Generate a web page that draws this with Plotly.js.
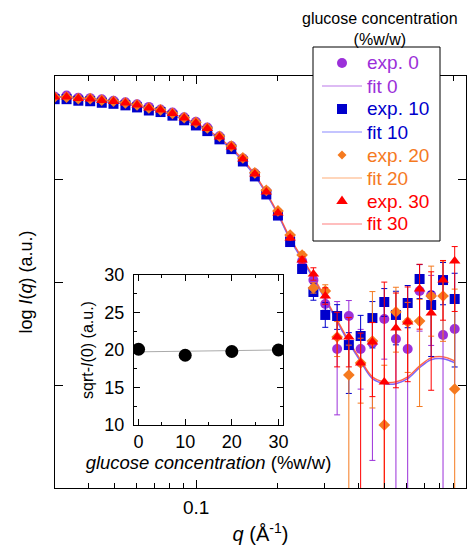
<!DOCTYPE html>
<html><head><meta charset="utf-8">
<script src="https://cdn.plot.ly/plotly-3.0.1.min.js"></script>
<style>html,body{margin:0;padding:0;background:#fff}#chart{width:469px;height:546px}</style>
</head><body><div id="chart"></div>
<script>
// scattering vector q (1/Å)
const q = [0.0299,0.0331,0.0366,0.0405,0.0447,0.0494,0.0547,0.0604,0.0668,0.0738,
           0.0817,0.0903,0.0998,0.110,0.122,0.135,0.149,0.165,0.182,0.201,
           0.223,0.247,0.272,0.301,0.333,0.368,0.407,0.450,0.498,0.550,
           0.608,0.673,0.743,0.822,0.908];

// log I(q), arbitrary units
const exp0 = [3.80,3.81,3.79,3.785,3.775,3.76,3.745,3.725,3.70,3.675,3.645,3.60,3.555,3.50,3.415,3.32,3.20,3.055,2.88,2.675,
              2.437,2.204,2.019,1.786,1.350,1.670,1.350,1.408,1.641,1.447,1.350,1.913,1.874,1.485,1.544];
const exp10 = [3.775,3.775,3.76,3.755,3.74,3.73,3.715,3.695,3.665,3.65,3.615,3.57,3.52,3.465,3.385,3.29,3.17,3.025,2.85,2.645,
               2.388,2.126,1.903,1.680,1.670,1.388,1.476,1.650,1.806,1.680,1.796,2.029,1.777,2.019,1.835];
const exp20 = [3.795,3.795,3.78,3.78,3.765,3.755,3.74,3.72,3.69,3.672,3.638,3.595,3.55,3.495,3.415,3.32,3.205,3.06,2.89,2.69,
               2.456,2.262,1.942,1.913,1.466,1.097,1.214,1.427,0.612,1.709,1.612,1.621,1.864,1.864,0.961];
const exp30 = [3.796,3.796,3.782,3.777,3.762,3.752,3.738,3.718,3.689,3.670,3.636,3.592,3.544,3.490,3.408,3.311,3.194,3.049,2.874,2.670,
               2.427,2.214,2.078,1.864,1.466,1.466,1.214,1.417,1.029,1.553,1.612,1.932,1.699,2.019,2.204];

// error bars (upper / lower), in log units; 9 = reaches below the axis
const err0Up = [0.005,0.005,0.005,0.005,0.005,0.005,0.005,0.005,0.005,0.005,0.005,0.005,0.005,0.005,0.005,0.01,0.01,0.01,0.01,0.01,
                0.02,0.03,0.05,0.06,0.46,0.15,0.19,0.24,0.15,0.24,0.29,0.15,0.19,0.39,0.29];
const err0Dn = [0.005,0.005,0.005,0.005,0.005,0.005,0.005,0.005,0.005,0.005,0.005,0.005,0.005,0.005,0.005,0.01,0.01,0.01,0.01,0.01,
                0.02,0.03,0.05,0.06,0.64,0.30,0.39,1.14,0.39,9,9,0.39,0.49,9,0.58];
const err10Up = [0.005,0.005,0.005,0.005,0.005,0.005,0.005,0.005,0.005,0.005,0.005,0.005,0.005,0.005,0.005,0.01,0.01,0.01,0.01,0.01,
                 0.02,0.04,0.08,0.12,0.11,0.12,0.20,0.16,0.13,0.23,0.17,0.14,0.13,0.17,0.25];
const err10Dn = [0.005,0.005,0.005,0.005,0.005,0.005,0.005,0.005,0.005,0.005,0.005,0.005,0.005,0.005,0.005,0.01,0.01,0.01,0.01,0.01,
                 0.02,0.04,0.08,0.12,0.13,0.47,0.29,0.29,0.14,0.29,0.24,0.19,0.50,0.24,0.66];
const err20Up = [0.005,0.005,0.005,0.005,0.005,0.005,0.005,0.005,0.005,0.005,0.005,0.005,0.005,0.005,0.005,0.01,0.01,0.01,0.01,0.01,
                 0.02,0.03,0.05,0.06,0.15,0.29,0.24,0.48,0.58,0.24,0.19,0.21,0.29,0.34,0.97];
const err20Dn = [0.005,0.005,0.005,0.005,0.005,0.005,0.005,0.005,0.005,0.005,0.005,0.005,0.005,0.005,0.005,0.01,0.01,0.01,0.01,0.01,
                 0.02,0.03,0.05,0.05,0.19,9,0.39,0.65,9,0.39,0.49,0.83,0.39,0.44,9];
const err30Up = [0.005,0.005,0.005,0.005,0.005,0.005,0.005,0.005,0.005,0.005,0.005,0.005,0.005,0.005,0.005,0.01,0.01,0.01,0.01,0.01,
                 0.02,0.03,0.06,0.08,0.24,0.19,0.29,0.19,0.97,0.34,0.34,0.24,0.40,0.19,0.14];
const err30Dn = [0.005,0.005,0.005,0.005,0.005,0.005,0.005,0.005,0.005,0.005,0.005,0.005,0.005,0.005,0.005,0.01,0.01,0.01,0.01,0.01,
                 0.02,0.03,0.06,0.08,0.29,0.29,9,0.53,9,0.58,0.58,0.39,0.75,0.39,0.49];

// model fits
const fit0 = [3.79,3.79,3.777,3.768,3.755,3.742,3.727,3.706,3.679,3.652,3.618,3.574,3.524,3.463,3.383,3.288,3.172,3.029,2.854,2.652,
              2.412,2.218,2.034,1.830,1.616,1.412,1.228,1.063,1.014,1.014,1.063,1.169,1.247,1.257,1.218];
const fit10 = [3.79,3.79,3.777,3.768,3.755,3.742,3.727,3.706,3.679,3.652,3.618,3.574,3.524,3.463,3.383,3.288,3.172,3.029,2.854,2.652,
               2.410,2.215,2.031,1.827,1.613,1.409,1.225,1.060,1.011,1.011,1.060,1.166,1.244,1.254,1.215];
const fit20 = [3.80,3.80,3.792,3.783,3.770,3.757,3.742,3.721,3.694,3.667,3.633,3.589,3.539,3.478,3.398,3.303,3.187,3.044,2.869,2.667,
               2.430,2.236,2.052,1.848,1.634,1.430,1.246,1.081,1.032,1.032,1.081,1.187,1.265,1.275,1.236];
const fit30 = [3.80,3.80,3.792,3.783,3.770,3.757,3.742,3.721,3.694,3.667,3.633,3.589,3.539,3.478,3.398,3.303,3.187,3.044,2.869,2.667,
               2.427,2.233,2.049,1.845,1.631,1.427,1.243,1.078,1.029,1.029,1.078,1.184,1.262,1.272,1.233];

// inset: sqrt-I(0) vs glucose concentration
const glucose = [0, 10, 20, 30];
const sqrtI0 = [20.1, 19.3, 19.8, 20.0];
const glucoseFit = [0, 30];
const sqrtI0Fit = [19.75, 20.0];

// legend labels
const legendLabels = ['exp. 0', 'fit 0', 'exp. 10', 'fit 10', 'exp. 20', 'fit 20', 'exp. 30', 'fit 30'];

const colors = {p:'#9b30d9', b:'#0000cc', o:'#f57a1f', r:'#ff0000'};
const fitColors = {p:'rgba(160,64,224,0.7)', b:'rgba(90,90,255,0.7)', o:'rgba(255,140,64,0.7)', r:'rgba(255,40,40,0.6)'};

function expTrace(y, up, dn, color, symbol, size) {
  return {
    x: q, y: y, type: 'scatter', mode: 'markers', showlegend: false,
    marker: {symbol: symbol, size: size, color: color},
    error_y: {type: 'data', symmetric: false, array: up, arrayminus: dn,
              color: color, thickness: 1, width: 3},
    xaxis: 'x', yaxis: 'y'
  };
}
function fitTrace(y, lineColor) {
  return {
    x: q, y: y, type: 'scatter', mode: 'lines', showlegend: false,
    line: {color: lineColor, width: 1.2, shape: 'spline'},
    xaxis: 'x', yaxis: 'y'
  };
}

const data = [
  fitTrace(fit0, fitColors.p),
  fitTrace(fit10, fitColors.b),
  fitTrace(fit20, fitColors.o),
  fitTrace(fit30, fitColors.r),
  expTrace(exp0, err0Up, err0Dn, colors.p, 'circle', 10),
  expTrace(exp10, err10Up, err10Dn, colors.b, 'square', 10),
  expTrace(exp20, err20Up, err20Dn, colors.o, 'diamond', 9),
  expTrace(exp30, err30Up, err30Dn, colors.r, 'triangle-up', 10),
  {x: glucoseFit, y: sqrtI0Fit, type: 'scatter', mode: 'lines', showlegend: false,
   line: {color: '#aaaaaa', width: 1}, xaxis: 'x2', yaxis: 'y2'},
  {x: glucose, y: sqrtI0, type: 'scatter', mode: 'markers', showlegend: false,
   marker: {symbol: 'circle', size: 13, color: '#000000'}, xaxis: 'x2', yaxis: 'y2'}
];

// ---- legend (drawn as a boxed key in paper coordinates) ----
const PW = 411, PH = 412, L = 55, B = 488;     // plot area size / origin in px
const px = v => (v - L) / PW;
const py = v => (B - v) / PH;
const shapes = [];
const annotations = [];
shapes.push({type: 'rect', xref: 'paper', yref: 'paper', layer: 'above',
  x0: px(313), x1: px(440), y0: py(241), y1: py(47),
  fillcolor: '#ffffff', line: {color: '#000000', width: 1}});
const keyColors = [colors.p, colors.p, colors.b, colors.b, colors.o, colors.o, colors.r, colors.r];
const keyKinds = ['circle', 'line', 'square', 'line', 'diamond', 'line', 'triangle', 'line'];
const keyLine = [null, fitColors.p, null, fitColors.b, null, fitColors.o, null, fitColors.r];
legendLabels.forEach((lab, i) => {
  const cy = 63 + 23 * i, cx = 342;
  const kind = keyKinds[i], c = keyColors[i];
  const base = {xref: 'paper', yref: 'paper', layer: 'above'};
  if (kind === 'line') {
    shapes.push(Object.assign({type: 'line', x0: px(322), x1: px(362), y0: py(cy), y1: py(cy),
      line: {color: keyLine[i], width: 1.2}}, base));
  } else if (kind === 'circle') {
    shapes.push(Object.assign({type: 'circle', x0: px(cx - 5), x1: px(cx + 5), y0: py(cy + 5), y1: py(cy - 5),
      fillcolor: c, line: {width: 0}}, base));
  } else if (kind === 'square') {
    shapes.push(Object.assign({type: 'rect', x0: px(cx - 5), x1: px(cx + 5), y0: py(cy + 5), y1: py(cy - 5),
      fillcolor: c, line: {width: 0}}, base));
  } else if (kind === 'diamond') {
    shapes.push(Object.assign({type: 'path',
      path: 'M' + px(cx) + ',' + py(cy - 4.5) + ' L' + px(cx + 4.5) + ',' + py(cy) + ' L' + px(cx) + ',' + py(cy + 4.5) + ' L' + px(cx - 4.5) + ',' + py(cy) + ' Z',
      fillcolor: c, line: {width: 0}}, base));
  } else {
    shapes.push(Object.assign({type: 'path',
      path: 'M' + px(cx - 5.8) + ',' + py(cy + 3) + ' L' + px(cx + 5.8) + ',' + py(cy + 3) + ' L' + px(cx) + ',' + py(cy - 5.5) + ' Z',
      fillcolor: c, line: {width: 0}}, base));
  }
  annotations.push({xref: 'paper', yref: 'paper', x: px(365), y: py(cy), xanchor: 'left', yanchor: 'middle',
    text: lab, showarrow: false, font: {size: 19, color: c}});
});
annotations.push({
  xref: 'paper', yref: 'paper', x: px(380), y: py(50), xanchor: 'center', yanchor: 'bottom',
  text: 'glucose concentration<br>(%w/w)', showarrow: false,
  font: {size: 16, color: '#000'}
});

const font = 'Arial, "Liberation Sans", Helvetica, sans-serif';
const layout = {
  width: 469, height: 546,
  margin: {l: 55, r: 3, t: 76, b: 58},
  paper_bgcolor: '#ffffff', plot_bgcolor: 'rgba(0,0,0,0)',
  font: {family: font, color: '#000000', size: 17},
  showlegend: false,
  xaxis: {
    type: 'log', range: [-1.523, 0],
    tickvals: [0.1, 1], ticktext: ['0.1', '1'],
    ticks: 'inside', ticklen: 8, tickwidth: 1, tickcolor: '#000',
    ticklabelstandoff: 2,
    mirror: 'allticks', showline: true, linecolor: '#000', linewidth: 1.2,
    showgrid: false, zeroline: false,
    tickfont: {size: 19},
    minor: {tickvals: [0.03,0.04,0.05,0.06,0.07,0.08,0.09,0.2,0.3,0.4,0.5,0.6,0.7,0.8,0.9],
            ticklen: 5, ticks: 'inside', tickcolor: '#000', showgrid: false},
    title: {text: '<i>q</i> (Å<sup>-1</sup>)', font: {size: 20}, standoff: 10},
    domain: [0, 1], anchor: 'y'
  },
  yaxis: {
    range: [0, 4], dtick: 1, tick0: 0,
    ticks: 'inside', ticklen: 8, tickcolor: '#000',
    showticklabels: false,
    mirror: 'allticks', showline: true, linecolor: '#000', linewidth: 1.2,
    showgrid: false, zeroline: false,
    title: {text: 'log <i>I</i>(<i>q</i>) (a.u.)', font: {size: 18}, standoff: 16},
    domain: [0, 1], anchor: 'x'
  },
  xaxis2: {
    domain: [0.192, 0.555], anchor: 'y2', range: [-1, 31],
    tick0: 0, dtick: 10, ticks: 'inside', ticklen: 6, tickcolor: '#000',
    minor: {dtick: 5, tick0: 0, ticklen: 3, ticks: 'inside', tickcolor: '#000'},
    mirror: 'allticks', showline: true, linecolor: '#000', linewidth: 1,
    showgrid: false, zeroline: false, tickfont: {size: 18},
    title: {text: '<i>glucose concentration</i> (%w/w)', font: {size: 18.5}, standoff: 2}
  },
  yaxis2: {
    domain: [0.153, 0.517], anchor: 'x2', range: [10, 30],
    tick0: 10, dtick: 5, ticks: 'inside', ticklen: 6, tickcolor: '#000',
    ticklabelstandoff: 5,
    minor: {dtick: 2.5, tick0: 10, ticklen: 3, ticks: 'inside', tickcolor: '#000'},
    mirror: 'allticks', showline: true, linecolor: '#000', linewidth: 1,
    showgrid: false, zeroline: false, tickfont: {size: 18},
    title: {text: 'sqrt-<i>I</i>(0) (a.u.)', font: {size: 16}, standoff: 6}
  },
  shapes: shapes,
  annotations: annotations
};

Plotly.newPlot('chart', data, layout, {displayModeBar: false, staticPlot: true});
</script></body></html>
